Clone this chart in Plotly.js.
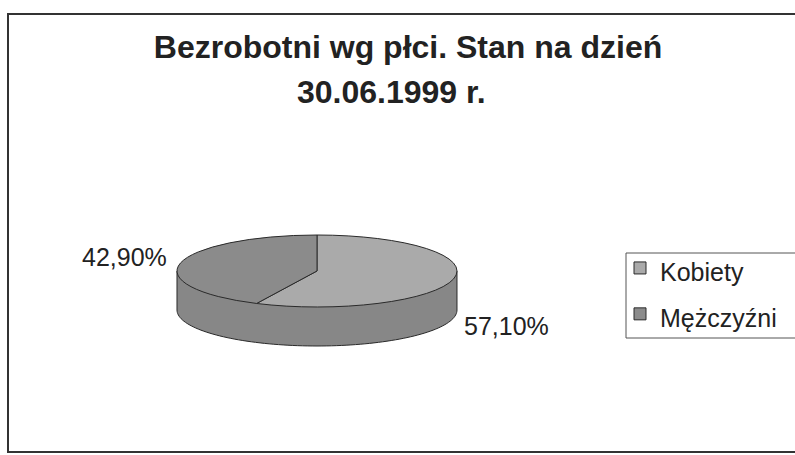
<!DOCTYPE html>
<html><head><meta charset="utf-8">
<script src="https://cdn.plot.ly/plotly-3.0.1.min.js"></script>
<style>html,body{margin:0;padding:0;background:#fff}</style>
</head><body>
<div id="chart" style="width:795px;height:455px"></div>
<script>
// ---- data ----
const categories = ['Kobiety', 'Mężczyźni'];
const shares = [57.1, 42.9];
const titleLine1 = 'Bezrobotni wg płci. Stan na dzień';
const titleLine2 = '30.06.1999 r.';

// ---- geometry / style ----
const W = 795, H = 455;
const CX = 317, CY = 271, R = 140, RY = 36, DEPTH = 39;
const S = RY / R;
const FONT = 'Liberation Sans, Arial, sans-serif';
const topColors = ['#aaaaaa', '#8b8b8b'];
const sideColor = '#878787';
const edge = '#2a2a2a';
const txt = '#222222';

const fmt = v => v.toFixed(2).replace('.', ',') + '%';

// cylinder side band (decorative extrusion of the pie)
const pts = [[CX - R, CY]];
for (let i = 0; i <= 90; i++) {
  const a = Math.PI * i / 90;
  pts.push([CX - R * Math.cos(a), CY + DEPTH + RY * Math.sin(a)]);
}
pts.push([CX + R, CY]);
const bandPath = pts.map((p, i) => (i ? 'L' : 'M') + (p[0] / W).toFixed(5) + ',' + (1 - p[1] / H).toFixed(5)).join(' ') + ' Z';

const data = [{
  type: 'pie',
  labels: categories.map(c => '<span style="font-size:25px">' + c + '</span>'),
  values: shares,
  sort: false,
  direction: 'clockwise',
  rotation: 0,
  textinfo: 'none',
  hoverinfo: 'none',
  marker: { colors: topColors, line: { color: edge, width: 1 } },
  domain: { x: [(CX - R) / W, (CX + R) / W], y: [1 - (CY + R) / H, 1 - (CY - R) / H] }
}];

const layout = {
  width: W, height: H,
  margin: { l: 0, r: 0, t: 0, b: 0 },
  paper_bgcolor: '#ffffff',
  font: { family: FONT, color: txt },
  title: {
    text: titleLine1,
    font: { family: FONT, size: 32, weight: 'bold', color: txt },
    x: 408 / W, xanchor: 'center', xref: 'container',
    y: 1 - 47 / H, yanchor: 'middle', yref: 'container'
  },
  showlegend: true,
  legend: {
    x: 620 / W, xanchor: 'left',
    y: 1 - 240 / H, yanchor: 'top',
    borderwidth: 0,
    bgcolor: 'rgba(0,0,0,0)',
    font: { family: FONT, size: 33, color: txt }
  },
  shapes: [
    { type: 'rect', xref: 'paper', yref: 'paper', x0: 8 / W, x1: 1.02, y0: 1 - 452 / H, y1: 1 - 14 / H,
      line: { color: '#333', width: 2 }, fillcolor: 'rgba(0,0,0,0)', layer: 'below' },
    { type: 'rect', xref: 'paper', yref: 'paper', x0: 626 / W, x1: 1.02, y0: 1 - 338 / H, y1: 1 - 253 / H,
      line: { color: '#555', width: 1 }, fillcolor: 'rgba(0,0,0,0)', layer: 'below' },
    { type: 'path', xref: 'paper', yref: 'paper', path: bandPath,
      fillcolor: sideColor, line: { color: edge, width: 1 }, layer: 'below' }
  ],
  annotations: [
    { text: titleLine2, xref: 'paper', yref: 'paper', x: 391 / W, y: 1 - 92 / H,
      xanchor: 'center', yanchor: 'middle', showarrow: false,
      font: { family: FONT, size: 32, weight: 'bold', color: txt } },
    { text: fmt(shares[1]), xref: 'paper', yref: 'paper', x: 124 / W, y: 1 - 257 / H,
      xanchor: 'center', yanchor: 'middle', showarrow: false,
      font: { family: FONT, size: 25, color: txt } },
    { text: fmt(shares[0]), xref: 'paper', yref: 'paper', x: 506 / W, y: 1 - 326 / H,
      xanchor: 'center', yanchor: 'middle', showarrow: false,
      font: { family: FONT, size: 25, color: txt } }
  ]
};

Plotly.newPlot('chart', data, layout, { staticPlot: true, displayModeBar: false }).then(gd => {
  gd.querySelectorAll('.pielayer .trace').forEach(el => {
    const prev = el.getAttribute('transform') || '';
    el.setAttribute('transform', 'translate(0,' + (CY * (1 - S)) + ') scale(1,' + S + ') ' + prev);
    el.querySelectorAll('path').forEach(p => { p.style.vectorEffect = 'non-scaling-stroke'; });
  });
});
</script>
</body></html>
